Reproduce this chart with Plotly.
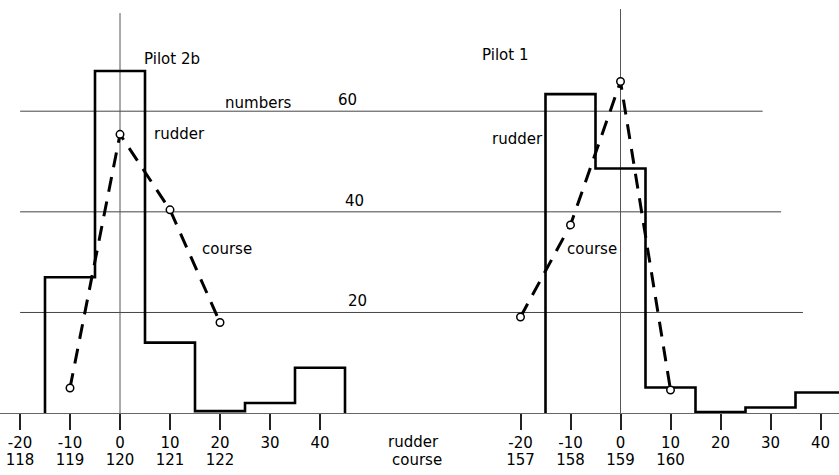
import plotly.graph_objects as go

# ---------------- data ----------------
# Pilot 2b (left panel)
rudder_bins_2b = [-10, 0, 10, 20, 30, 40]
rudder_counts_2b = [27, 68, 14, 0.4, 2, 9]
course_vals_2b = [119, 120, 121, 122]
course_counts_2b = [5, 55.4, 40.4, 18]
course_center_2b = 120

# Pilot 1 (right panel)
rudder_bins_1 = [-10, 0, 10, 20, 30, 40]
rudder_counts_1 = [63.4, 48.6, 5.1, 0.2, 1.1, 4.1]
course_vals_1 = [157, 158, 159, 160]
course_counts_1 = [19.1, 37.4, 65.9, 4.6]
course_center_1 = 159

rudder_ticks = [-20, -10, 0, 10, 20, 30, 40]
course_ticks_2b = [118, 119, 120, 121, 122]
course_ticks_1 = [157, 158, 159, 160]
grid_levels = [20, 40, 60]

# ---------------- helpers ----------------
BIN_W = 10
COURSE_SCALE = 10  # rudder units per course degree
FONT = dict(family="DejaVu Sans", size=15, color="black")


def step_xy(centers, counts, width=BIN_W):
    edges = [c - width / 2 for c in centers] + [centers[-1] + width / 2]
    xs = [edges[0]] + edges
    ys = [0] + list(counts) + [0]
    return xs, ys


W, H = 839, 475
left_range = [-24, 59.9]
right_range = [-40.2, 43.7]
y_range = [-12.3, 82.1]
base_pos = (0 - y_range[0]) / (y_range[1] - y_range[0])

fig = go.Figure()

for xa, xc, bins, counts, cvals, ccounts in [
    ("x", "x3", rudder_bins_2b, rudder_counts_2b, course_vals_2b, course_counts_2b),
    ("x2", "x4", rudder_bins_1, rudder_counts_1, course_vals_1, course_counts_1),
]:
    sx, sy = step_xy(bins, counts)
    fig.add_trace(go.Scatter(x=sx, y=sy, mode="lines", line=dict(color="black", width=2.6, shape="hv"),
                             xaxis=xa, yaxis="y", showlegend=False, hoverinfo="skip"))
    fig.add_trace(go.Scatter(x=cvals, y=ccounts, mode="lines+markers",
                             line=dict(color="black", width=3, dash="15px,10px"),
                             marker=dict(symbol="circle", size=7.5, color="white",
                                         line=dict(color="black", width=1.5)),
                             xaxis=xc, yaxis="y", showlegend=False, hoverinfo="skip"))

common_x = dict(anchor="free", position=base_pos, showgrid=False, zeroline=False,
                showline=True, linecolor="#666", linewidth=1,
                ticks="outside", ticklen=16, tickwidth=1.5, tickcolor="#222",
                tickvals=rudder_ticks, ticktext=[str(v) for v in rudder_ticks],
                tickfont=FONT, fixedrange=True)
course_x = dict(anchor="free", position=base_pos, showgrid=False, zeroline=False,
                showline=False, ticks="outside", ticklen=33, tickcolor="rgba(0,0,0,0)",
                tickfont=FONT, fixedrange=True)

fig.update_layout(
    width=W, height=H,
    margin=dict(l=0, r=0, t=0, b=0),
    paper_bgcolor="white", plot_bgcolor="white",
    font=FONT,
    xaxis=dict(domain=[0, 0.5], range=left_range, **common_x),
    xaxis2=dict(domain=[0.5, 1], range=right_range, **common_x),
    xaxis3=dict(overlaying="x", range=[r / COURSE_SCALE + course_center_2b for r in left_range],
                tickvals=course_ticks_2b, ticktext=[str(v) for v in course_ticks_2b], **course_x),
    xaxis4=dict(overlaying="x2", range=[r / COURSE_SCALE + course_center_1 for r in right_range],
                tickvals=course_ticks_1, ticktext=[str(v) for v in course_ticks_1], **course_x),
    yaxis=dict(domain=[0, 1], range=y_range, visible=False, fixedrange=True),
)

# gridlines (each spans both panels, ends differ as in the reference)
grid_ends = [0.957, 0.931, 0.909]
for lvl, x1 in zip(grid_levels, grid_ends):
    fig.add_shape(type="line", xref="paper", yref="y", x0=0.024, x1=x1, y0=lvl, y1=lvl,
                  line=dict(color="#444", width=1), layer="below")

# vertical zero lines
fig.add_shape(type="line", xref="x", yref="y", x0=0, x1=0, y0=-3.2, y1=79.5,
              line=dict(color="#555", width=1), layer="below")
fig.add_shape(type="line", xref="x2", yref="y", x0=0, x1=0, y0=-3.2, y1=80.3,
              line=dict(color="#555", width=1), layer="below")

# text labels
def txt(text, px, py):
    fig.add_annotation(text=text, xref="paper", yref="paper", x=px / W, y=1 - py / H,
                       xanchor="left", yanchor="middle", showarrow=False, font=FONT)

txt("Pilot 2b", 142, 59)
txt("rudder", 152, 134)
txt("course", 200, 249)
txt("numbers", 223, 103)
txt("Pilot 1", 480, 55)
txt("rudder", 490, 139)
txt("course", 565, 249)
txt("rudder", 386, 442)
txt("course", 390, 460)

for lvl, px in zip(grid_levels, [346, 343, 336]):
    fig.add_annotation(text=str(lvl), xref="paper", yref="y", x=px / W, y=lvl,
                       xanchor="left", yanchor="bottom", showarrow=False, font=FONT)

fig.write_html("out.html", config=dict(displayModeBar=False),
               post_script="document.body.style.margin='0';document.body.style.overflow='hidden';")
